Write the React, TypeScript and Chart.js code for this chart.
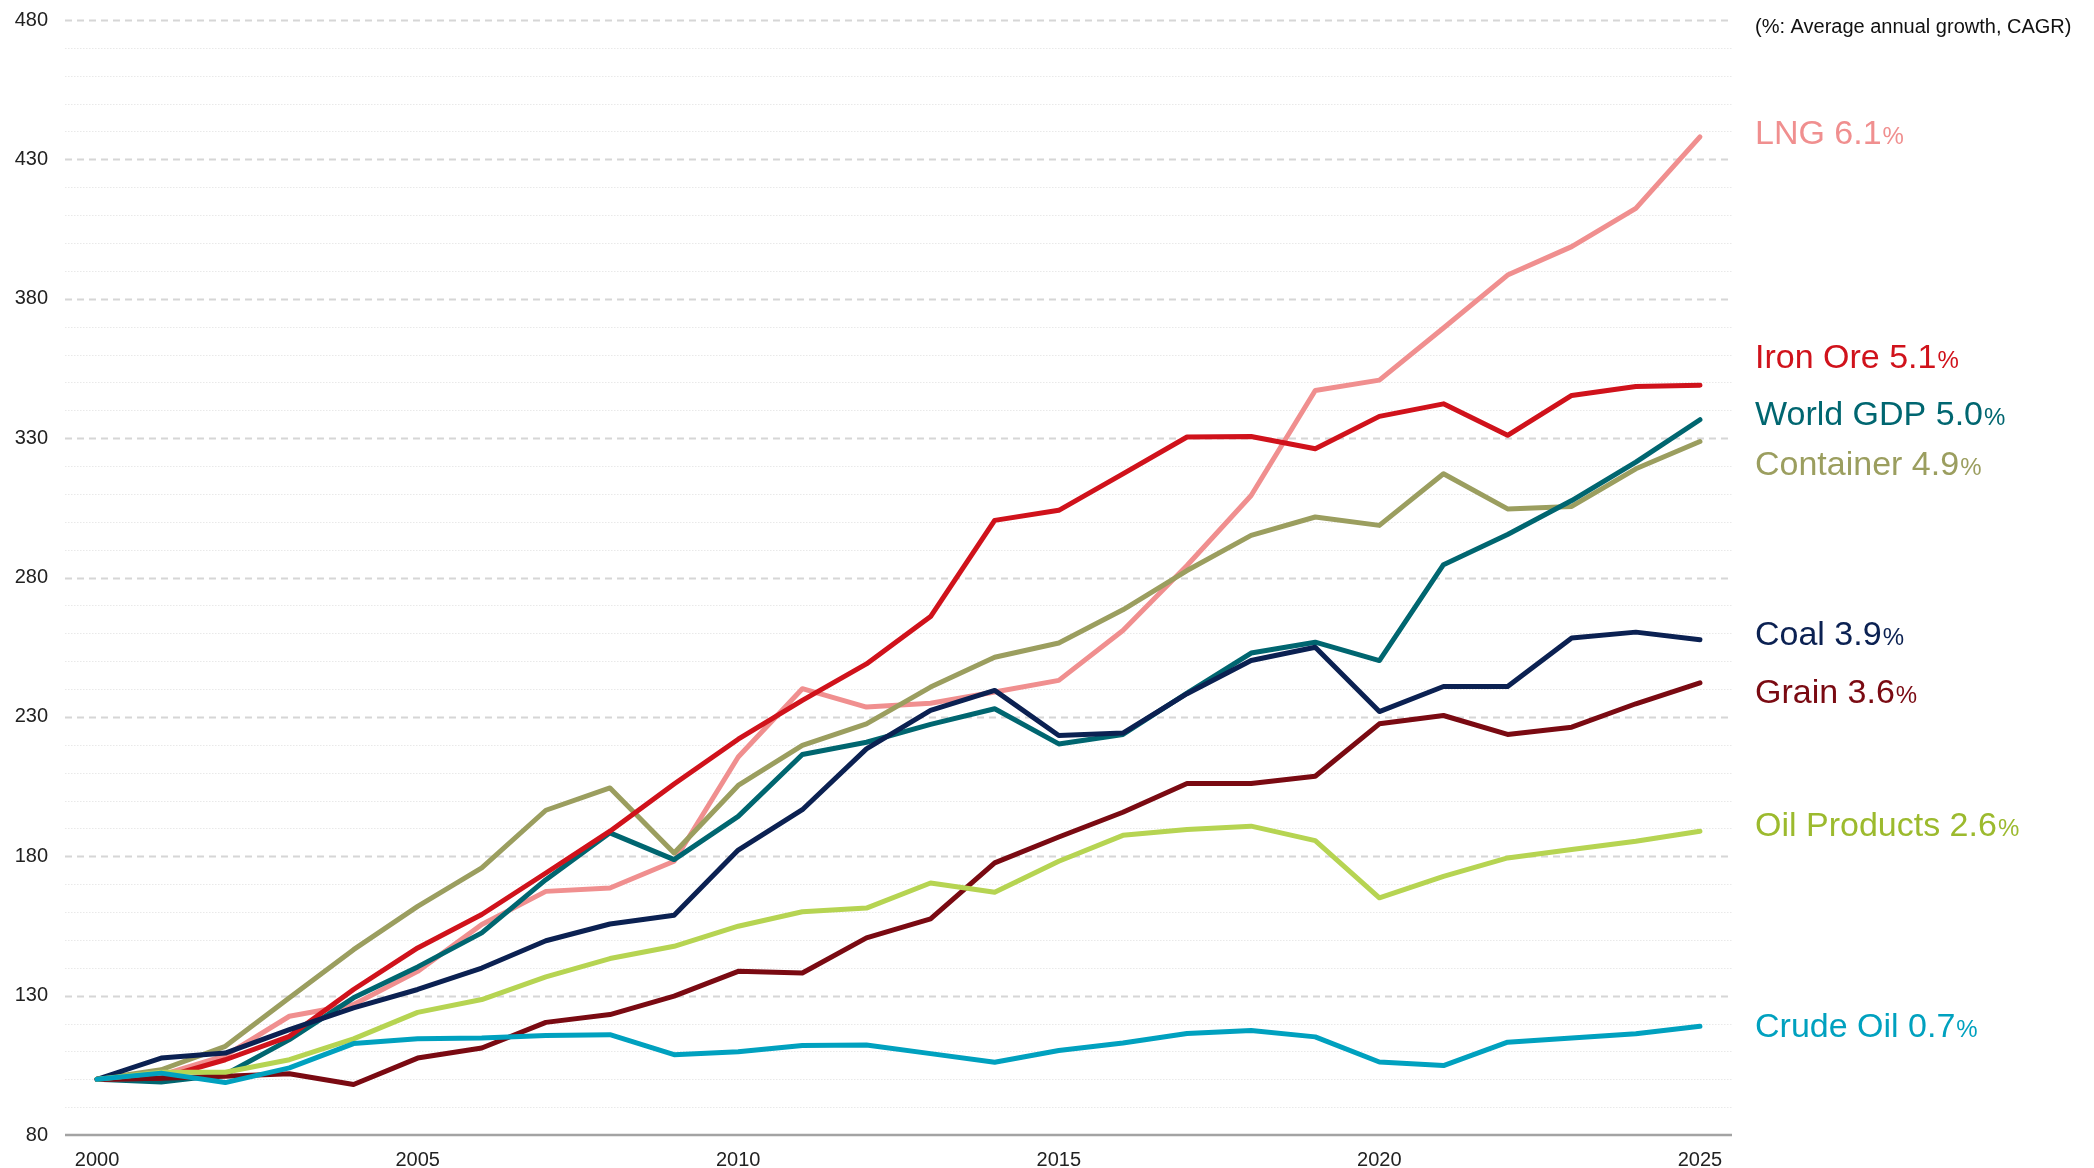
import React, { useEffect, useRef } from 'react';
import { Chart, registerables } from 'chart.js';

Chart.register(...registerables);

const FONT = '"Liberation Sans", Arial, Helvetica, sans-serif';

const years = ['2000','2001','2002','2003','2004','2005','2006','2007','2008','2009','2010','2011','2012','2013','2014','2015','2016','2017','2018','2019','2020','2021','2022','2023','2024','2025'];

const lng = [100, 101.5, 108.5, 122.6, 126.8, 138.7, 155.5, 167.4, 168.6, 178.2, 215.6, 240.1, 233.5, 234.9, 238.9, 243.1, 261.0, 284.3, 309.4, 347.1, 350.8, 369.5, 388.5, 398.7, 412.4, 438.1];
const ironOre = [100, 100.4, 107.0, 115.4, 132.2, 147.1, 159.1, 174.0, 189.0, 205.9, 222.0, 235.9, 249.0, 266.0, 300.5, 304.1, 317.2, 330.4, 330.6, 326.2, 337.8, 342.3, 331.0, 345.3, 348.5, 349.0];
const worldGdp = [100, 99.0, 101.7, 114.2, 129.2, 140.3, 152.5, 171.6, 188.4, 178.8, 194.3, 216.5, 220.9, 227.3, 232.9, 220.3, 223.7, 238.5, 252.9, 256.8, 250.2, 284.6, 295.4, 307.6, 321.4, 336.6];
const container = [100, 103.4, 111.8, 129.2, 146.5, 162.0, 175.8, 196.5, 204.5, 181.2, 205.4, 219.8, 227.5, 240.7, 251.4, 256.5, 268.4, 282.5, 295.1, 301.7, 298.7, 317.2, 304.6, 305.5, 319.0, 328.8];
const coal = [100, 107.6, 109.4, 117.8, 125.6, 132.2, 139.9, 149.7, 155.7, 158.8, 182.2, 196.7, 218.5, 232.3, 239.5, 223.3, 224.2, 238.3, 250.2, 255.0, 231.9, 240.9, 240.9, 258.3, 260.4, 257.7];
const grain = [100, 100.4, 101.1, 102.0, 98.1, 107.6, 111.2, 120.4, 123.2, 129.8, 138.7, 138.1, 150.7, 157.5, 177.6, 186.9, 195.8, 206.1, 206.1, 208.7, 227.5, 230.5, 223.7, 226.3, 234.7, 242.2];
const oilProducts = [100, 102.5, 102.5, 107.0, 114.5, 124.0, 128.6, 136.7, 143.3, 147.7, 154.9, 160.1, 161.4, 170.4, 167.1, 178.2, 187.5, 189.6, 190.8, 185.6, 165.1, 172.8, 179.4, 182.4, 185.4, 189.0];
const crudeOil = [100, 102.2, 98.8, 104.1, 112.8, 114.5, 114.8, 115.7, 116.0, 108.8, 109.9, 112.1, 112.3, 109.2, 106.1, 110.3, 113.0, 116.4, 117.5, 115.2, 106.2, 104.9, 113.3, 114.8, 116.3, 119.0];

// drawing order: first = on top
const seriesNames = ['Crude Oil', 'Oil Products', 'Grain', 'Coal', 'Iron Ore', 'World GDP', 'Container', 'LNG'];
const seriesData = [crudeOil, oilProducts, grain, coal, ironOre, worldGdp, container, lng];
const cagr = ['0.7', '2.6', '3.6', '3.9', '5.1', '5.0', '4.9', '6.1'];
const lineColors = ['#00A1BF', '#B6D452', '#7A0A12', '#0B2152', '#D0121B', '#006670', '#9B9E5F', '#F08F8F'];
const labelColors = ['#00A1BF', '#9CBA2E', '#7A0A12', '#0B2152', '#D0121B', '#006670', '#9B9E5F', '#F08F8F'];
const labelValues = [119.5, 191.5, 239.5, 260, 359.5, 339, 321, 440];

const yMin = 80;
const yMax = 480;
const majorStep = 50;
const minorStep = 10;
const noteText = '(%: Average annual growth, CAGR)';

const gridPlugin = {
  id: 'customGrid',
  beforeDatasetsDraw(chart: any) {
    const { ctx, chartArea, scales } = chart;
    const y = scales.y;
    ctx.save();
    for (let v = yMin + minorStep; v <= yMax; v += minorStep) {
      const py = Math.round(y.getPixelForValue(v)) + 0.5;
      const major = (v - yMin) % majorStep === 0;
      ctx.beginPath();
      if (major) {
        ctx.strokeStyle = '#d6d6d6';
        ctx.lineWidth = 2;
        ctx.setLineDash([7, 5]);
      } else {
        ctx.strokeStyle = '#e9e9e9';
        ctx.lineWidth = 1.2;
        ctx.setLineDash([1.5, 1.5]);
      }
      ctx.moveTo(chartArea.left, py);
      ctx.lineTo(chartArea.right, py);
      ctx.stroke();
    }
    ctx.setLineDash([]);
    const pb = y.getPixelForValue(yMin);
    ctx.beginPath();
    ctx.strokeStyle = '#a3a3a3';
    ctx.lineWidth = 2.5;
    ctx.moveTo(chartArea.left, pb);
    ctx.lineTo(chartArea.right, pb);
    ctx.stroke();
    ctx.restore();
  },
};

const labelPlugin = {
  id: 'seriesLabels',
  afterDatasetsDraw(chart: any) {
    const { ctx, chartArea, scales } = chart;
    const y = scales.y;
    const x0 = chartArea.right + 23;
    ctx.save();
    ctx.textAlign = 'left';
    ctx.textBaseline = 'middle';
    ctx.fillStyle = '#111111';
    ctx.font = `20px ${FONT}`;
    ctx.fillText(noteText, x0, chartArea.top + 7);

    ctx.textBaseline = 'alphabetic';
    const big = 34;
    const small = 24;
    seriesNames.forEach((name, i) => {
      const cy = y.getPixelForValue(labelValues[i]);
      const base = cy + big * 0.358;
      ctx.fillStyle = labelColors[i];
      ctx.font = `${big}px ${FONT}`;
      const main = `${name} ${cagr[i]}`;
      ctx.fillText(main, x0, base);
      const w = ctx.measureText(main).width;
      ctx.font = `${small}px ${FONT}`;
      ctx.fillText('%', x0 + w + 1, base);
    });
    ctx.restore();
  },
};

export default function App() {
  const canvasRef = useRef<HTMLCanvasElement | null>(null);

  useEffect(() => {
    const canvas = canvasRef.current;
    if (!canvas) return;
    const chart = new Chart(canvas, {
      type: 'line',
      data: {
        labels: years,
        datasets: seriesNames.map((name, i) => ({
          label: name,
          data: seriesData[i],
          borderColor: lineColors[i],
          backgroundColor: lineColors[i],
          borderWidth: 5,
          pointRadius: 0,
          tension: 0,
          fill: false,
          borderCapStyle: 'round' as const,
          borderJoinStyle: 'round' as const,
        })),
      },
      options: {
        responsive: false,
        maintainAspectRatio: false,
        animation: false,
        layout: { autoPadding: false, padding: { left: 0, right: 362, top: 20, bottom: 0 } },
        plugins: {
          legend: { display: false },
          tooltip: { enabled: false },
        },
        scales: {
          x: {
            type: 'category',
            offset: true,
            grid: { display: false, drawTicks: false },
            border: { display: false },
            ticks: {
              autoSkip: false,
              maxRotation: 0,
              minRotation: 0,
              padding: 13,
              color: '#222222',
              font: { family: FONT, size: 20 },
              callback: (_v: any, i: number) => (Number(years[i]) % 5 === 0 ? years[i] : ''),
            },
            afterFit: (s: any) => {
              s.height = 33;
            },
          },
          y: {
            min: yMin,
            max: yMax,
            grid: { display: false, drawTicks: false },
            border: { display: false },
            ticks: {
              stepSize: minorStep,
              autoSkip: false,
              padding: 17,
              color: '#222222',
              font: { family: FONT, size: 20, lineHeight: 0.3 },
              callback: (v: any) => ((Number(v) - yMin) % majorStep === 0 ? String(v) : ''),
            },
            afterFit: (s: any) => {
              s.width = 65;
            },
          },
        },
      },
      plugins: [gridPlugin, labelPlugin],
    });
    return () => chart.destroy();
  }, []);

  return (
    <div style={{ position: 'absolute', left: 0, top: 0, width: 2094, height: 1168, background: '#ffffff' }}>
      <canvas ref={canvasRef} width={2094} height={1168} style={{ display: 'block', width: 2094, height: 1168 }} />
    </div>
  );
}
